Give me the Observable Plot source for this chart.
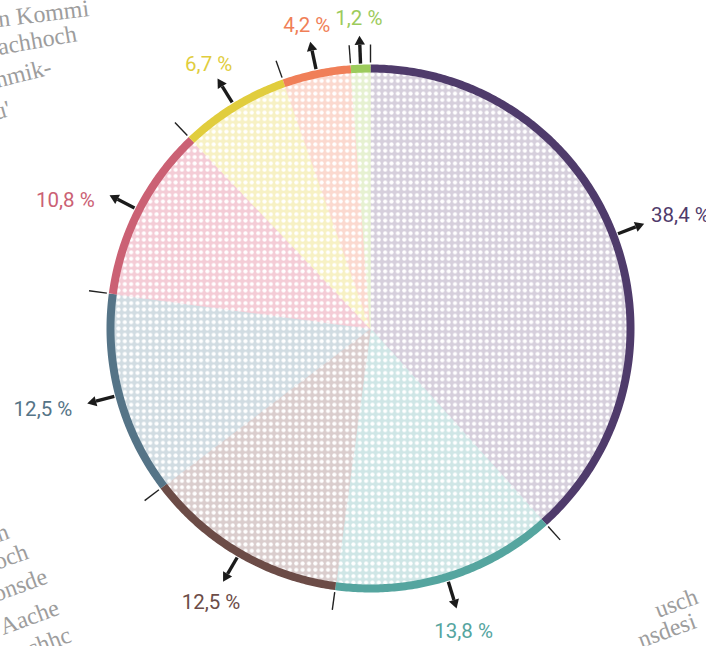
<!DOCTYPE html>
<html><head><meta charset="utf-8">
<script src="https://cdn.jsdelivr.net/npm/d3@7"></script>
<script src="https://cdn.jsdelivr.net/npm/@observablehq/plot@0.6"></script>
<style>
html,body{margin:0;padding:0;background:#fff;}
#wrap{position:relative;width:706px;height:646px;overflow:hidden;}
#chart{position:absolute;left:0;top:0;}
.bg{position:absolute;font-family:"Liberation Serif","DejaVu Serif",serif;font-size:24px;color:#9d9d9d;white-space:nowrap;transform-origin:0 80%;line-height:1;}
</style>
</head><body>
<div id="wrap"><div id="chart"></div></div>
<script>
// ---- data ----
const labels = ["38,4 %", "13,8 %", "12,5 %", "12,5 %", "10,8 %", "6,7 %", "4,2 %", "1,2 %"];
const values = [38.4, 13.8, 12.5, 12.5, 10.8, 6.7, 4.2, 1.2];
const strokeColors = ["#4f3b6b", "#55a59f", "#6c4c47", "#557487", "#cb6174", "#e1cd3d", "#f07f58", "#9ccb5b"];
const paleColors = ["#d6cfdc", "#cfe6e6", "#dacdcd", "#d1dce2", "#f4ccd6", "#f7f1c4", "#fbd9cf", "#e6f1d1"];
const bgTexts = ["n Kommi", "achhoch", "nmik-", "u'", "n", "och", "onsde", "Aache", "chhc", "usch", "nsdesi"];

// ---- layout ----
const W = 706, H = 646, cx = 370, cy = 328, R = 260;
const rad = Math.PI / 180;
const pt = (deg, r) => [cx + r * Math.sin(deg * rad), cy - r * Math.cos(deg * rad)];
const total = d3.sum(values);
let acc = 0;
const slices = values.map((v, i) => {
  const a0 = acc / total * 360; acc += v; const a1 = acc / total * 360;
  return {i, a0, a1, mid: (a0 + a1) / 2, label: labels[i], stroke: strokeColors[i], pale: paleColors[i]};
});
function arcPts(a0, a1, r) {
  const n = Math.max(2, Math.ceil((a1 - a0) / 0.5));
  return d3.range(n + 1).map(k => pt(a0 + (a1 - a0) * k / n, r));
}
const wedgePts = slices.flatMap(s => [[cx, cy], ...arcPts(s.a0, s.a1, R + 1), [cx, cy]]
  .map(([x, y]) => ({x, y, i: s.i, pale: s.pale})));
const rimPts = slices.flatMap(s => arcPts(s.a0, s.a1, R).map(([x, y]) => ({x, y, i: s.i, stroke: s.stroke})));
const ticks = slices.map(s => { const [x1, y1] = pt(s.a0, 266); const [x2, y2] = pt(s.a0, 284); return {x1, y1, x2, y2}; });
const arrows = slices.map(s => {
  const [x1, y1] = pt(s.mid, 265); const [x2, y2] = pt(s.mid, 284); const [hx, hy] = pt(s.mid, 287);
  return {x1, y1, x2, y2, hx, hy, rot: s.mid};
});
const labs = slices.map(s => {
  const sn = Math.sin(s.mid * rad), cs = Math.cos(s.mid * rad);
  if (Math.abs(sn) > 0.8) {
    const [tx, ty] = pt(s.mid, 294);
    return sn > 0
      ? {...s, lx: tx + 6, ly: ty - 8, anchor: "start"}
      : {...s, lx: tx - 14, ly: ty + 6, anchor: "end"};
  }
  const [lx, ly] = pt(s.mid, cs > 0 ? 310 : 317);
  return {...s, lx, ly, anchor: "middle"};
});

const defsMark = () => {
  const g = document.createElementNS("http://www.w3.org/2000/svg", "defs");
  g.innerHTML = '<pattern id="dots" patternUnits="userSpaceOnUse" x="0.5" y="1" width="6.35" height="6.35"><circle cx="3.17" cy="3.17" r="2.05" fill="#ffffff"/></pattern>';
  return g;
};

const textOpts = {x: "lx", y: "ly", text: "label", fill: "stroke", fontSize: 20.5, fontFamily: "Roboto, 'DejaVu Sans', sans-serif"};

const chart = Plot.plot({
  width: W, height: H, margin: 0,
  x: {domain: [0, W], range: [0, W], axis: null},
  y: {domain: [0, H], range: [0, H], axis: null},
  color: {type: "identity"},
  style: {background: "transparent", overflow: "visible"},
  marks: [
    defsMark,
    Plot.line(wedgePts, {x: "x", y: "y", z: "i", fill: "pale", stroke: "pale", strokeWidth: 0.8}),
    Plot.line(wedgePts, {x: "x", y: "y", z: "i", fill: "url(#dots)", stroke: "none"}),
    Plot.line(rimPts, {x: "x", y: "y", z: "i", stroke: "stroke", strokeWidth: 8, strokeLinecap: "butt", strokeLinejoin: "round"}),
    Plot.link(ticks, {x1: "x1", y1: "y1", x2: "x2", y2: "y2", stroke: "#222", strokeWidth: 1.4}),
    Plot.link(arrows, {x1: "x1", y1: "y1", x2: "x2", y2: "y2", stroke: "#1b1b1b", strokeWidth: 3.4}),
    Plot.dot(arrows, {x: "hx", y: "hy", symbol: "triangle2", r: 5, rotate: "rot", fill: "#1b1b1b", stroke: "none"}),
    Plot.text(labs.filter(d => d.anchor === "start"), {...textOpts, textAnchor: "start"}),
    Plot.text(labs.filter(d => d.anchor === "end"), {...textOpts, textAnchor: "end"}),
    Plot.text(labs.filter(d => d.anchor === "middle"), {...textOpts, textAnchor: "middle"})
  ]
});
document.getElementById("chart").appendChild(chart);

// decorative background text (faint print show-through): [left x, baseline y, rotation]
const bgPlace = [
  [-1, 27, -7], [-1, 55, -10], [-3, 88, -14], [-4, 120, -16],
  [-1, 542, -20], [-3, 570, -20], [-4, 602, -20], [3, 635, -20], [30, 657, -20],
  [658, 618, -20], [641, 648, -20]
];
bgTexts.forEach((t, k) => {
  const [x, y, r] = bgPlace[k];
  const d = document.createElement("div");
  d.className = "bg"; d.textContent = t;
  d.style.left = x + "px"; d.style.top = (y - 20) + "px";
  d.style.transform = `rotate(${r}deg)`;
  document.getElementById("wrap").appendChild(d);
});
</script>
</body></html>
